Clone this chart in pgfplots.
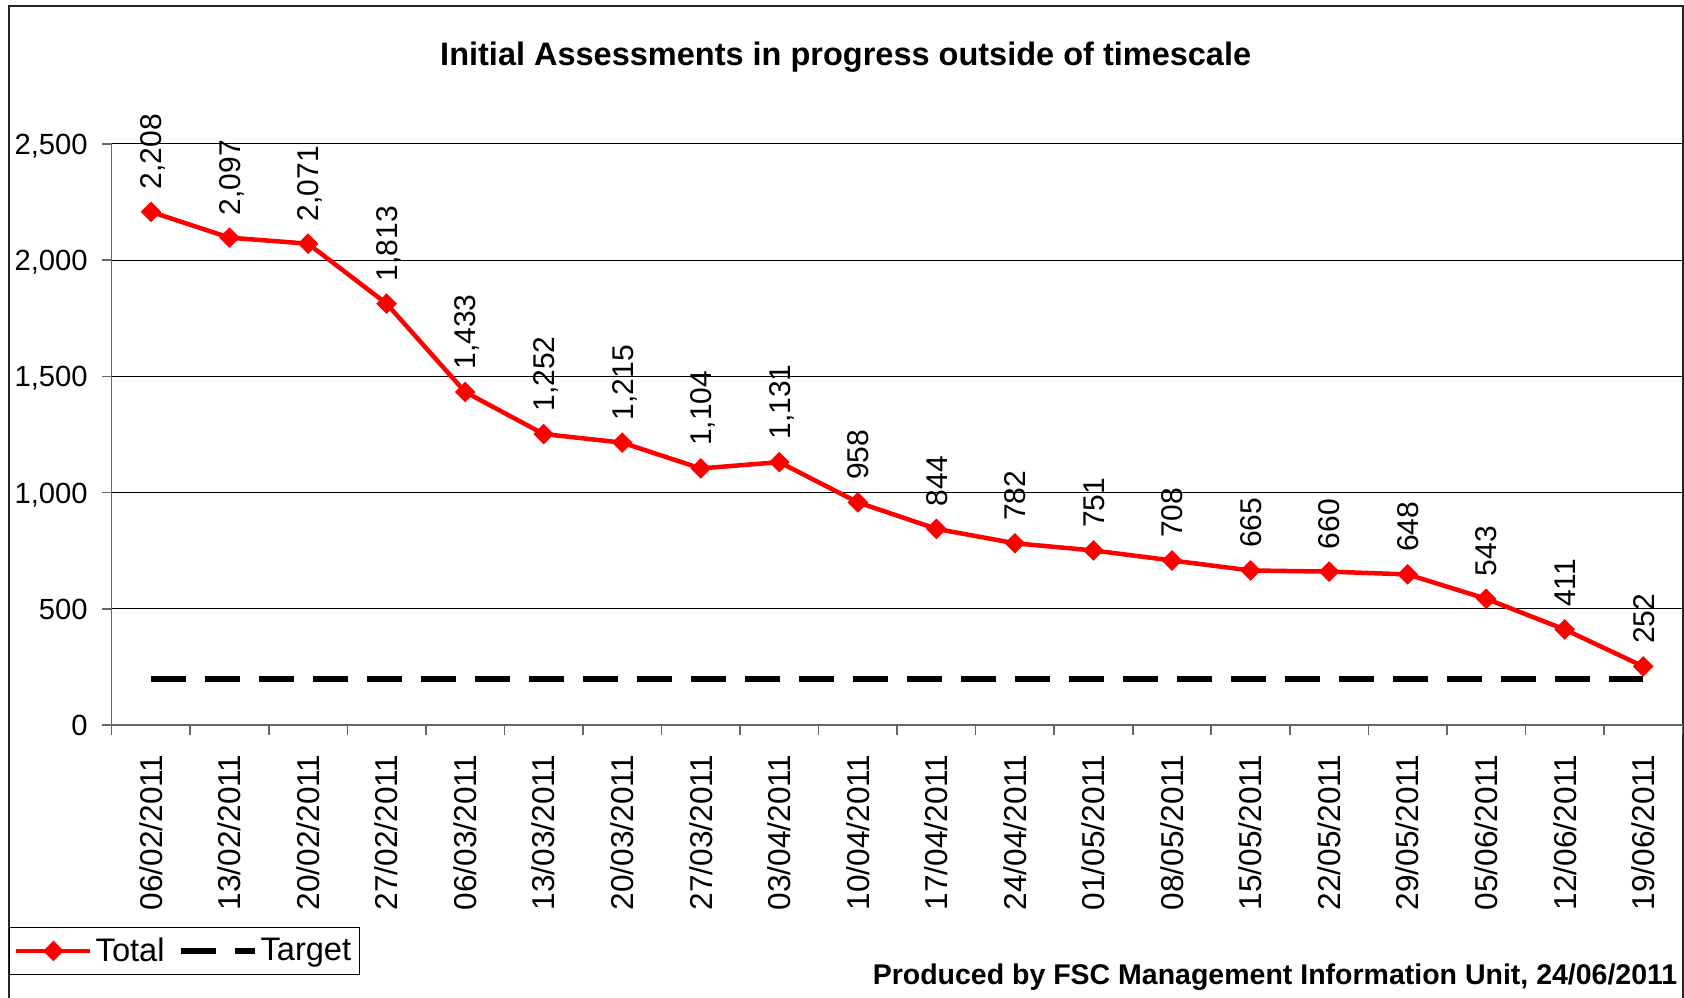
\documentclass[border=0pt]{standalone}
\usepackage{pgfplots}
\pgfplotsset{compat=1.18}
\usepackage{fontspec}
\setmainfont{Liberation Sans}
\begin{document}
\begin{tikzpicture}
\useasboundingbox (-55.85bp,-136.5bp) rectangle (786.15bp,362.5bp);
\draw[black!85, line width=1bp] (-51.35bp,-140bp) rectangle (785.4bp,359.5bp);
\begin{axis}[
  at={(0,0)}, anchor=south west,
  scale only axis,
  width=785.4bp, height=290.5bp,
  xmin=0.5, xmax=20.5, ymin=0, ymax=2500,
  clip=false,
  axis x line*=bottom, axis y line*=left,
  axis line style={-, draw=black!60, line width=0.8bp},
  /pgf/number format/1000 sep={,},
  /pgf/number format/assume math mode=true,
  ytick={0,500,1000,1500,2000,2500},
  ymajorgrids,
  grid style={black, line width=0.5bp},
  xtick={1,...,20},
  xticklabels={06/02/2011,13/02/2011,20/02/2011,27/02/2011,06/03/2011,13/03/2011,20/03/2011,27/03/2011,03/04/2011,10/04/2011,17/04/2011,24/04/2011,01/05/2011,08/05/2011,15/05/2011,22/05/2011,29/05/2011,05/06/2011,12/06/2011,19/06/2011},
  minor xtick={0.5,1.5,...,20.5},
  tick align=outside,
  major tick length=5bp, minor tick length=5bp,
  major x tick style={draw=none},
  minor x tick style={draw=black!60, line width=0.8bp},
  ytick style={draw=black!60, line width=0.8bp},
  yticklabel style={anchor=east, inner sep=0pt, text height=10.5bp, text depth=0pt, font=\fontsize{14.6bp}{17bp}\selectfont},
  yticklabel shift=6.8bp,
  xticklabel style={rotate=90, anchor=east, inner sep=0pt, text height=11.3bp, text depth=0pt, font=\fontsize{15.8bp}{18bp}\selectfont},
  xticklabel shift=9.6bp,
  legend columns=2,
  legend style={at={(axis description cs:-0.06564,-0.3477)}, anchor=north west,
    draw=black, line width=0.6bp, fill=white, inner xsep=2.5bp, inner ysep=3.5bp,
    font=\fontsize{16.3bp}{19bp}\selectfont,
    nodes={inner sep=1.5bp},
    /tikz/every even column/.append style={column sep=5bp}},
  legend image code/.code={\draw[mark repeat=2, mark phase=2, #1] plot coordinates {(0bp,0bp) (18.5bp,0bp) (37bp,0bp)};},
]
\addplot[red, line width=2.25bp, mark=diamond*, mark size=4.8bp,
  mark options={solid, fill=red, draw=red, line width=0.5bp, xscale=1.333},
  nodes near coords,
  nodes near coords style={rotate=90, anchor=west, inner xsep=11bp, inner ysep=0pt,
    text height=10.8bp, text depth=0pt, text=black, font=\fontsize{15bp}{18bp}\selectfont}]
  coordinates {(1,2208)(2,2097)(3,2071)(4,1813)(5,1433)(6,1252)(7,1215)(8,1104)(9,1131)(10,958)(11,844)(12,782)(13,751)(14,708)(15,665)(16,660)(17,648)(18,543)(19,411)(20,252)};
\addlegendentry{Total}
\addplot[black, line width=3bp, dash pattern=on 17.5bp off 9.5bp, line cap=butt]
  coordinates {(1,200)(20,200)};
\addlegendentry{Target}
\end{axis}
\node[anchor=base, inner sep=0pt, font=\bfseries\fontsize{16.25bp}{19bp}\selectfont] at (367bp,329.5bp) {Initial Assessments in progress outside of timescale};
\node[anchor=base east, inner sep=0pt, font=\bfseries\fontsize{14.25bp}{17bp}\selectfont] at (783bp,-129.5bp) {Produced by FSC Management Information Unit, 24/06/2011};
\end{tikzpicture}
\end{document}
